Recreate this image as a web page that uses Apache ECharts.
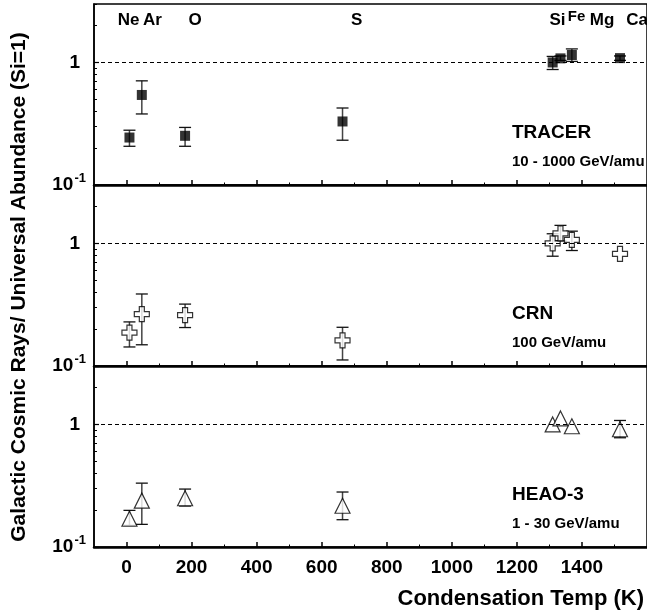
<!DOCTYPE html>
<html>
<head>
<meta charset="utf-8">
<script src="https://cdn.jsdelivr.net/npm/echarts@6/dist/echarts.min.js"></script>
<style>
html,body{margin:0;padding:0;background:#fff;}
#chart{width:647px;height:616px;}
</style>
</head>
<body>
<div id="chart"></div>
<script>
// ---- data ----
const elements = ['Ne', 'Ar', 'O', 'S', 'Si', 'Fe', 'Mg', 'Ca'];
const condTemp = [9, 47, 180, 664, 1310, 1334, 1369, 1517];

const tracerVal = [0.244, 0.543, 0.252, 0.33, 1.0, 1.08, 1.15, 1.085];
const tracerLo  = [0.207, 0.38, 0.207, 0.232, 0.876, 1.04, 1.02, 1.04];
const tracerHi  = [0.28, 0.708, 0.295, 0.425, 1.12, 1.13, 1.29, 1.13];

const crnVal = [0.187, 0.265, 0.26, 0.162, 1.0, 1.21, 1.07, 0.823];
const crnLo  = [0.143, 0.149, 0.206, 0.112, 0.787, 1.05, 0.876, 0.823];
const crnHi  = [0.229, 0.387, 0.32, 0.207, 1.2, 1.405, 1.26, 0.823];

const heaoVal = [0.17, 0.239, 0.25, 0.217, 1.0, 1.12, 0.967, 0.914];
const heaoLo  = [0.15, 0.153, 0.216, 0.167, 1.0, 1.12, 0.967, 0.779];
const heaoHi  = [0.199, 0.332, 0.297, 0.281, 1.0, 1.12, 0.967, 1.078];

const panelNames = ['TRACER', 'CRN', 'HEAO-3'];
const panelEnergies = ['10 - 1000 GeV/amu', '100 GeV/amu', '1 - 30 GeV/amu'];

const xMajorTicks = [0, 200, 400, 600, 800, 1000, 1200, 1400];
const xMinorTicks = [100, 300, 500, 700, 900, 1100, 1300, 1500];
const yMajorTicks = [0.1, 1];
const yMinorTicks = [0.2, 0.3, 0.4, 0.5, 0.6, 0.7, 0.8, 0.9, 2, 3];

const xTitle = 'Condensation Temp (K)';
const yTitle = 'Galactic Cosmic Rays/ Universal Abundance (Si=1)';

// ---- layout / style ----
const FONT = '"Liberation Sans", Arial, Helvetica, sans-serif';
const gridTops = [4, 185, 366];
const gridH = 181;
const crossPath = 'path://M5,0 L10,0 L10,5 L15,5 L15,10 L10,10 L10,15 L5,15 L5,10 L0,10 L0,5 L5,5 Z';
const panelStyles = [
  { symbol: 'rect', symbolSize: 10, itemStyle: { color: '#000' } },
  { symbol: crossPath, symbolSize: 15, itemStyle: { color: '#fff', borderColor: '#000', borderWidth: 1.2 } },
  { symbol: 'triangle', symbolSize: [15, 15], itemStyle: { color: '#fff', borderColor: '#000', borderWidth: 1.2 } }
];
const panelData = [
  [tracerVal, tracerLo, tracerHi],
  [crnVal, crnLo, crnHi],
  [heaoVal, heaoLo, heaoHi]
];

const grid = [], xAxis = [], yAxis = [], series = [], graphic = [];

gridTops.forEach((top, i) => {
  grid.push({ left: 94, right: -19, top: top, height: gridH, show: true, borderColor: '#000', borderWidth: 1.5, backgroundColor: 'transparent' });
  const isBottom = i === 2;
  xAxis.push({
    type: 'value', gridIndex: i, min: -100, max: 1600, position: 'bottom',
    axisLine: { show: true, onZero: false, lineStyle: { color: '#000', width: 2.5 } },
    axisTick: { show: true, inside: true, length: 5, customValues: xMajorTicks, lineStyle: { color: '#000', width: 1.5 } },
    axisLabel: { show: isBottom, customValues: xMajorTicks, margin: 11, formatter: v => String(v), color: '#000', fontFamily: FONT, fontWeight: 'bold', fontSize: 19 },
    splitLine: { show: false }
  });
  xAxis.push({
    type: 'value', gridIndex: i, min: -100, max: 1600, position: 'bottom',
    axisLine: { show: false, onZero: false },
    axisTick: { show: true, inside: true, length: 2.5, customValues: xMinorTicks, lineStyle: { color: '#000', width: 1 } },
    axisLabel: { show: false },
    splitLine: { show: false }
  });
  yAxis.push({
    type: 'log', logBase: 10, gridIndex: i, min: 0.1, max: 3, position: 'left',
    axisLine: { show: true, onZero: false, lineStyle: { color: '#000', width: 1.5 } },
    axisTick: { show: true, inside: true, length: 5, customValues: yMajorTicks, lineStyle: { color: '#000', width: 1.2 } },
    axisLabel: {
      show: true, customValues: yMajorTicks, margin: 8,
      formatter: v => (Math.abs(v - 0.1) < 1e-9 ? '{b|10}{s|-1}' : '{o|1}'),
      rich: {
        b: { fontSize: 19, fontWeight: 'bold', fontFamily: FONT, color: '#000' },
        o: { fontSize: 19, fontWeight: 'bold', fontFamily: FONT, color: '#000', padding: [0, 6, 0, 0] },
        s: { fontSize: 13, fontWeight: 'bold', fontFamily: FONT, color: '#000', padding: [0, 0, 14, 1] }
      }
    },
    splitLine: { show: false }
  });
  yAxis.push({
    type: 'log', logBase: 10, gridIndex: i, min: 0.1, max: 3, position: 'left',
    axisLine: { show: false, onZero: false },
    axisTick: { show: true, inside: true, length: 3, customValues: yMinorTicks, lineStyle: { color: '#000', width: 1 } },
    axisLabel: { show: false },
    splitLine: { show: false }
  });

  const [vals, los, his] = panelData[i];
  // error bars
  series.push({
    type: 'custom', xAxisIndex: 2 * i, yAxisIndex: 2 * i, z: 2,
    encode: { x: 0, y: [1, 2] },
    data: condTemp.map((t, k) => [t, los[k], his[k]]),
    renderItem: (params, api) => {
      const x = api.value(0), lo = api.value(1), hi = api.value(2);
      if (lo === hi) return { type: 'group', children: [] };
      const a = api.coord([x, lo]), b = api.coord([x, hi]);
      const cw = 6;
      return {
        type: 'group',
        children: [
          { type: 'line', shape: { x1: a[0], y1: a[1], x2: b[0], y2: b[1] }, style: { stroke: '#444', lineWidth: 1.5 } },
          { type: 'line', shape: { x1: a[0] - cw, y1: a[1], x2: a[0] + cw, y2: a[1] }, style: { stroke: '#111', lineWidth: 1.3 } },
          { type: 'line', shape: { x1: b[0] - cw, y1: b[1], x2: b[0] + cw, y2: b[1] }, style: { stroke: '#111', lineWidth: 1.3 } }
        ]
      };
    }
  });
  // markers
  series.push(Object.assign({
    type: 'scatter', xAxisIndex: 2 * i, yAxisIndex: 2 * i, z: 3,
    data: condTemp.map((t, k) => [t, vals[k]]),
    markLine: {
      silent: true, symbol: 'none', label: { show: false },
      lineStyle: { color: '#000', width: 1, type: [4, 3] },
      data: [{ yAxis: 1 }]
    }
  }, panelStyles[i]));
});

// panel name texts
const nameY = [133, 314, 495];
const energyY = [162, 343, 524];
panelNames.forEach((n, i) => {
  graphic.push({ type: 'text', x: 512, y: nameY[i], style: { text: n, font: 'bold 19px ' + FONT, fill: '#000', textAlign: 'left', textVerticalAlign: 'middle' } });
  graphic.push({ type: 'text', x: 512, y: energyY[i], style: { text: panelEnergies[i], font: 'bold 15px ' + FONT, fill: '#000', textAlign: 'left', textVerticalAlign: 'middle' } });
});

// element labels along the top panel
const labelLayout = [
  { x: 128.5, y: 20, size: 17 }, { x: 152.5, y: 20, size: 17 }, { x: 195, y: 20, size: 17 },
  { x: 356.7, y: 20, size: 17 }, { x: 557.5, y: 20.5, size: 17 }, { x: 576.5, y: 17, size: 15 },
  { x: 602, y: 20.5, size: 17 }, { x: 637, y: 20.5, size: 17 }
];
elements.forEach((el, k) => {
  const L = labelLayout[k];
  graphic.push({ type: 'text', x: L.x, y: L.y, style: { text: el, font: 'bold ' + L.size + 'px ' + FONT, fill: '#000', textAlign: 'center', textVerticalAlign: 'middle' } });
});

// axis titles
graphic.push({ type: 'text', x: 644, y: 599, style: { text: xTitle, font: 'bold 22px ' + FONT, fill: '#000', textAlign: 'right', textVerticalAlign: 'middle' } });
graphic.push({ type: 'text', x: 19, y: 287, rotation: Math.PI / 2, style: { text: yTitle, font: 'bold 21px ' + FONT, fill: '#000', textAlign: 'center', textVerticalAlign: 'middle' } });

const chart = echarts.init(document.getElementById('chart'), null, { renderer: 'canvas' });
chart.setOption({
  animation: false,
  backgroundColor: '#fff',
  grid, xAxis, yAxis, series, graphic
});
</script>
</body>
</html>
